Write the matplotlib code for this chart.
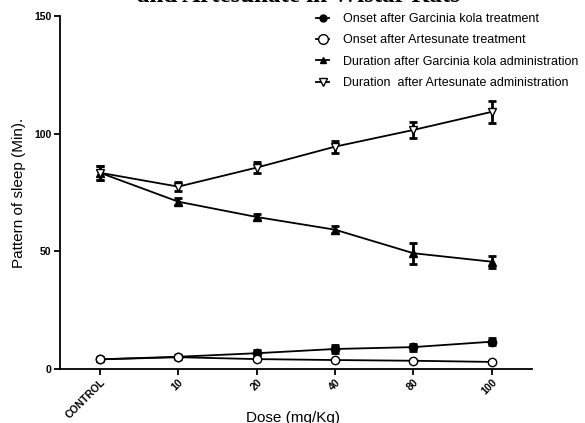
import numpy as np
import matplotlib.pyplot as plt
from matplotlib.lines import Line2D

plt.rcParams['font.family'] = ['Liberation Sans', 'DejaVu Sans']

doses = ['CONTROL', '10', '20', '40', '80', '100']
onset_gk = [4.1, 5.2, 6.7, 8.5, 9.3, 11.6]
onset_gk_err = [0.8, 0.8, 1.5, 1.5, 1.5, 1.6]
onset_art = [4.1, 5.0, 4.2, 3.8, 3.5, 3.0]
onset_art_err = [0.5, 0.5, 0.5, 0.5, 0.5, 0.5]
dur_gk = [83.4, 71.1, 64.6, 59.2, 49.2, 45.6]
dur_gk_err = [3.0, 1.5, 1.2, 1.5, 4.4, 2.5]
dur_art = [83.4, 77.5, 85.6, 94.5, 101.6, 109.3]
dur_art_err = [3.0, 2.0, 2.5, 2.5, 3.5, 4.7]
labels = ['Onset after Garcinia kola treatment',
          'Onset after Artesunate treatment',
          'Duration after Garcinia kola administration',
          'Duration  after Artesunate administration']

x = np.arange(len(doses))

fig = plt.figure(figsize=(5.85, 4.23), dpi=100)
ax = fig.add_axes([0.1026, 0.1277, 0.8064, 0.8343])

kw = dict(color='black', lw=1.3, capsize=3, capthick=2, elinewidth=2, markersize=6)
ax.errorbar(x, onset_gk, yerr=onset_gk_err, fmt='-o', mfc='black', mec='black', **kw)
ax.errorbar(x, onset_art, yerr=onset_art_err, fmt='-o', mfc='white', mec='black', **kw)
ax.errorbar(x, dur_gk, yerr=dur_gk_err, fmt='-^', mfc='black', mec='black', **kw)
ax.errorbar(x, dur_art, yerr=dur_art_err, fmt='-v', mfc='white', mec='black', **kw)

ax.set_xlim(-0.51, 5.51)
ax.set_ylim(0, 150)
ax.set_yticks([0, 50, 100, 150])
ax.set_xticks(x)
ax.set_xticklabels(doses, rotation=45, ha='right', rotation_mode='anchor',
                   fontsize=7.5, fontweight='bold')
for lab in ax.get_yticklabels():
    lab.set_fontsize(7.5)
    lab.set_fontweight('bold')
ax.spines['top'].set_visible(False)
ax.spines['right'].set_visible(False)
ax.spines['left'].set_linewidth(1.3)
ax.spines['bottom'].set_linewidth(1.3)
ax.tick_params(direction='out', length=4, width=1.3, pad=2)

ax.set_xlabel('Dose (mg/Kg)', fontsize=11)
ax.xaxis.set_label_coords(0.494, -0.12)
ax.set_ylabel('Pattern of sleep (Min).', fontsize=11, labelpad=6)

# legend handles: line + marker only
handles = [
    Line2D([], [], color='black', lw=1.3, marker='o', mfc='black', ms=5),
    Line2D([], [], color='black', lw=1.3, marker='o', mfc='white', ms=7),
    Line2D([], [], color='black', lw=1.3, marker='^', mfc='black', ms=5),
    Line2D([], [], color='black', lw=1.3, marker='v', mfc='white', ms=6),
]
fig.legend(handles, labels, loc='upper left', bbox_to_anchor=(310 / 585, 0.984),
           frameon=False, fontsize=9, borderpad=0, handlelength=1.05,
           handletextpad=1.1, labelspacing=0.75)

# title sits mostly above the canvas, as in the reference
fig.text(0.51, 1 - 2.5 / 423, 'and Artesunate in Wistar Rats', ha='center', va='baseline',
         family=['Liberation Serif'], fontweight='bold', fontsize=18)

fig.savefig('out.png', dpi=100)
